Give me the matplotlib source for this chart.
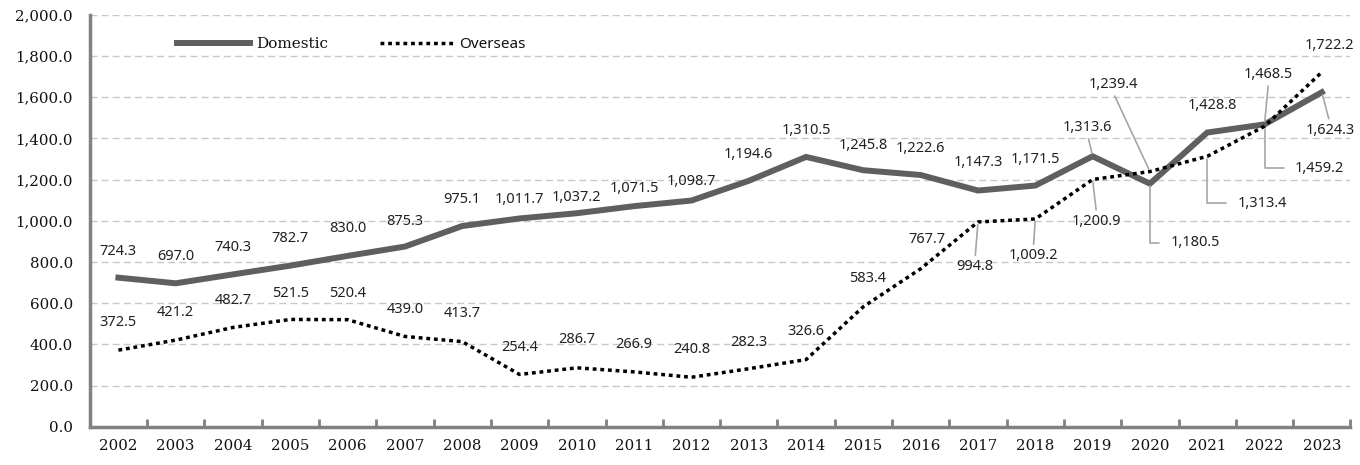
import matplotlib
matplotlib.use("Agg")
import matplotlib.pyplot as plt
from matplotlib.ticker import FuncFormatter, MultipleLocator

years = [str(y) for y in range(2002, 2024)]
domestic = [724.3, 697.0, 740.3, 782.7, 830.0, 875.3, 975.1, 1011.7, 1037.2, 1071.5, 1098.7,
            1194.6, 1310.5, 1245.8, 1222.6, 1147.3, 1171.5, 1313.6, 1180.5, 1428.8, 1468.5, 1624.3]
overseas = [372.5, 421.2, 482.7, 521.5, 520.4, 439.0, 413.7, 254.4, 286.7, 266.9, 240.8,
            282.3, 326.6, 583.4, 767.7, 994.8, 1009.2, 1200.9, 1239.4, 1313.4, 1459.2, 1722.2]

# label offsets in pixels (dx, dy) relative to data point; and leader style
dom_off = [(0, 26), (0, 27), (0, 27), (0, 27), (0, 27), (0, 25), (0, 27), (0, 19), (0, 16),
           (0, 18), (0, 19), (0, 26), (0, 26), (0, 25), (0, 27), (0, 28), (0, 26),
           (-5, 29), (45, -59), (5, 27), (4, 50), (8, -38)]
dom_lead = [None] * 17 + ["line", "elbow", None, "line", "line"]
ovs_off = [(0, 28), (0, 28), (0, 27), (0, 26), (0, 26), (0, 27), (0, 28), (0, 27), (0, 28),
           (0, 27), (0, 28), (0, 26), (0, 28), (4, 28), (6, 29), (-3, -45), (-2, -37),
           (4, -42), (-37, 87), (55, -47), (55, -42), (8, 27)]
ovs_lead = [None] * 15 + ["line", "line", "line", "line", "elbow", "elbow", None]

fig = plt.figure(figsize=(13.6, 4.65), dpi=100)
ax = fig.add_axes([0.066, 0.082, 0.927, 0.886])

x = list(range(len(years)))
ax.plot(x, domestic, color="#5f5f5f", lw=4.3, solid_joinstyle="miter", label="Domestic", zorder=3)
ax.plot(x, overseas, color="black", lw=2.5, linestyle=(0, (1.1, 1.1)), dash_capstyle="butt",
        label="Overseas", zorder=4)

ax.set_xlim(-0.5, len(years) - 0.5)
ax.set_ylim(0, 2000)
ax.yaxis.set_major_locator(MultipleLocator(200))
ax.yaxis.set_major_formatter(FuncFormatter(lambda v, p: f"{v:,.1f}"))
ax.set_xticks(x)
ax.set_xticklabels(years)
ax.set_xticks([i - 0.5 for i in range(1, len(years) + 1)], minor=True)
ax.tick_params(axis="x", which="major", length=0, pad=9)
ax.tick_params(axis="x", which="minor", direction="in", length=6, width=2, color="#808080")
ax.tick_params(axis="y", length=0, pad=12)
for lbl in ax.get_xticklabels() + ax.get_yticklabels():
    lbl.set_fontfamily("DejaVu Serif")
    lbl.set_fontsize(10.8)
    lbl.set_color("#111111")
ax.grid(axis="y", color="#c8c8c8", lw=1, linestyle=(0, (5, 3)))
ax.set_axisbelow(True)
for s in ["top", "right"]:
    ax.spines[s].set_visible(False)
for s in ["left", "bottom"]:
    ax.spines[s].set_color("#808080")
    ax.spines[s].set_linewidth(2.5)

lead_color = "#a6a6a6"
def put(vals, offs, leads):
    for i, (v, (dx, dy), ld) in enumerate(zip(vals, offs, leads)):
        kw = {}
        if ld == "line":
            rel = (0.5, 0.0) if dy > 0 else (0.5, 1.0)
            kw["arrowprops"] = dict(arrowstyle="-", color=lead_color, lw=1.2, shrinkA=1, shrinkB=2,
                                    relpos=rel)
        elif ld == "elbow":
            kw["arrowprops"] = dict(arrowstyle="-", color=lead_color, lw=1.2, shrinkA=6, shrinkB=2,
                                    relpos=(0.0, 0.5), connectionstyle="angle,angleA=0,angleB=90,rad=0")
        ax.annotate(f"{v:,.1f}", (i, v), xytext=(dx, dy), textcoords="offset pixels",
                    ha="center", va="center", fontsize=10.5, family="Noto Sans",
                    color="#222222", zorder=5, **kw)

put(domestic, dom_off, dom_lead)
put(overseas, ovs_off, ovs_lead)

leg = ax.legend(loc="center left", bbox_to_anchor=(0.058, 0.928), ncol=2, frameon=False,
                prop={"family": "Noto Sans", "size": 11}, handlelength=4.8, columnspacing=3.4,
                handletextpad=0.4)
leg.get_texts()[0].set_fontfamily("DejaVu Serif")
for t in leg.get_texts():
    t.set_color("#111111")

fig.savefig("out.png", dpi=100)
